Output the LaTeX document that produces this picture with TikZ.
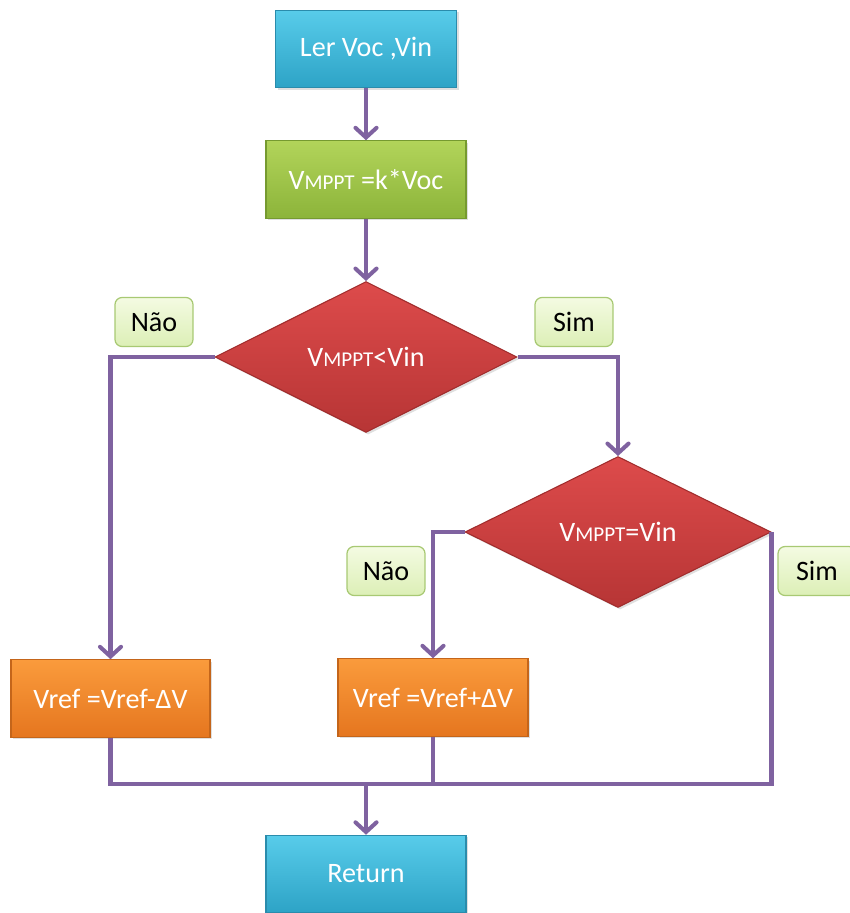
\documentclass[tikz,border=0pt]{standalone}
\usepackage{fontspec}
\setmainfont{Carlito}
\usetikzlibrary{arrows.meta,shapes.geometric,shadows}
\definecolor{fcLine}{HTML}{7F62A0}
\definecolor{fcCyanTop}{HTML}{58CCEA}
\definecolor{fcCyanBot}{HTML}{2DA3C6}
\definecolor{fcCyanEdge}{HTML}{2A8CAC}
\definecolor{fcGreenTop}{HTML}{B2D45A}
\definecolor{fcGreenBot}{HTML}{8CB43A}
\definecolor{fcGreenEdge}{HTML}{769A30}
\definecolor{fcRedTop}{HTML}{DD4B4B}
\definecolor{fcRedBot}{HTML}{B73535}
\definecolor{fcRedEdge}{HTML}{A02C2C}
\definecolor{fcOrangeTop}{HTML}{FA9B3C}
\definecolor{fcOrangeBot}{HTML}{E5761F}
\definecolor{fcOrangeEdge}{HTML}{C4651A}
\definecolor{fcTagTop}{HTML}{F4FBE2}
\definecolor{fcTagBot}{HTML}{DCEFB6}
\definecolor{fcTagEdge}{HTML}{A8C973}
\newcommand{\mppt}{V{\fontsize{12pt}{14pt}\selectfont MPPT}}
\tikzset{
  every node/.style={font=\fontsize{16pt}{19pt}\selectfont, text=white},
  stepBox/.style={rectangle, draw, line width=0.6pt, inner sep=0pt,
    minimum height=1.55cm, align=center,
    drop shadow={opacity=0.25, shadow xshift=1.2pt, shadow yshift=-1.2pt}},
  ioBox/.style={stepBox, top color=fcCyanTop, bottom color=fcCyanBot,
    draw=fcCyanEdge},
  calcBox/.style={stepBox, top color=fcGreenTop, bottom color=fcGreenBot,
    draw=fcGreenEdge},
  refBox/.style={stepBox, top color=fcOrangeTop, bottom color=fcOrangeBot,
    draw=fcOrangeEdge},
  testBox/.style={diamond, draw=fcRedEdge, line width=0.6pt, inner sep=0pt,
    top color=fcRedTop, bottom color=fcRedBot, minimum height=3.02cm,
    drop shadow={opacity=0.25, shadow xshift=1.2pt, shadow yshift=-1.2pt}},
  answerTag/.style={rectangle, rounded corners=4pt, draw=fcTagEdge,
    line width=0.7pt, top color=fcTagTop, bottom color=fcTagBot,
    minimum width=1.56cm, minimum height=0.98cm, inner sep=0pt,
    text=black},
  flow/.style={-{Straight Barb[length=5.5pt,width=12pt,line cap=round]},
    line width=2.3pt, color=fcLine},
  bus/.style={line width=2.3pt, color=fcLine},
}

\begin{document}
\begin{tikzpicture}[x=0.02cm,y=-0.02cm]
  \useasboundingbox (0,0) rectangle (849,913);

  % main column
  \node[ioBox, minimum width=3.62cm] (read) at (366,49) {Ler Voc ,Vin};
  \node[calcBox, minimum width=4.00cm] (vmppt) at (366,179.5) {\mppt{} =k*Voc};
  \node[testBox, minimum width=6.04cm] (test1) at (366,357) {\mppt{}<Vin};
  \node[testBox, minimum width=6.12cm] (test2) at (618,532) {\mppt{}=Vin};

  % reference updates
  \node[refBox, minimum width=3.98cm] (down) at (110.5,698.5) {Vref =Vref-ΔV};
  \node[refBox, minimum width=3.80cm] (up) at (433,697.5) {Vref =Vref+ΔV};
  \node[ioBox, minimum width=4.00cm] (ret) at (366,874) {Return};

  % answers
  \node[answerTag] (no1) at (154,322) {Não};
  \node[answerTag] (yes1) at (574,322) {Sim};
  \node[answerTag] (no2) at (386,571) {Não};
  \node[answerTag] (yes2) at (817,571) {Sim};

  \draw[flow] (read.south) -- (vmppt.north);
  \draw[flow] (vmppt.south) -- (test1.north);
  \draw[flow] (test1.west) -| (down.north);
  \draw[flow] (test1.east) -| (test2.north);
  \draw[flow] (test2.west) -| (up.north);

  % joining bus
  \coordinate (join) at (366,784);
  \draw[bus] (test2.east) |- (join);
  \draw[bus] (down.south) |- (join);
  \draw[bus] (up.south) -- (up.south |- join);
  \draw[flow] (join) -- (ret.north);
\end{tikzpicture}
\end{document}
